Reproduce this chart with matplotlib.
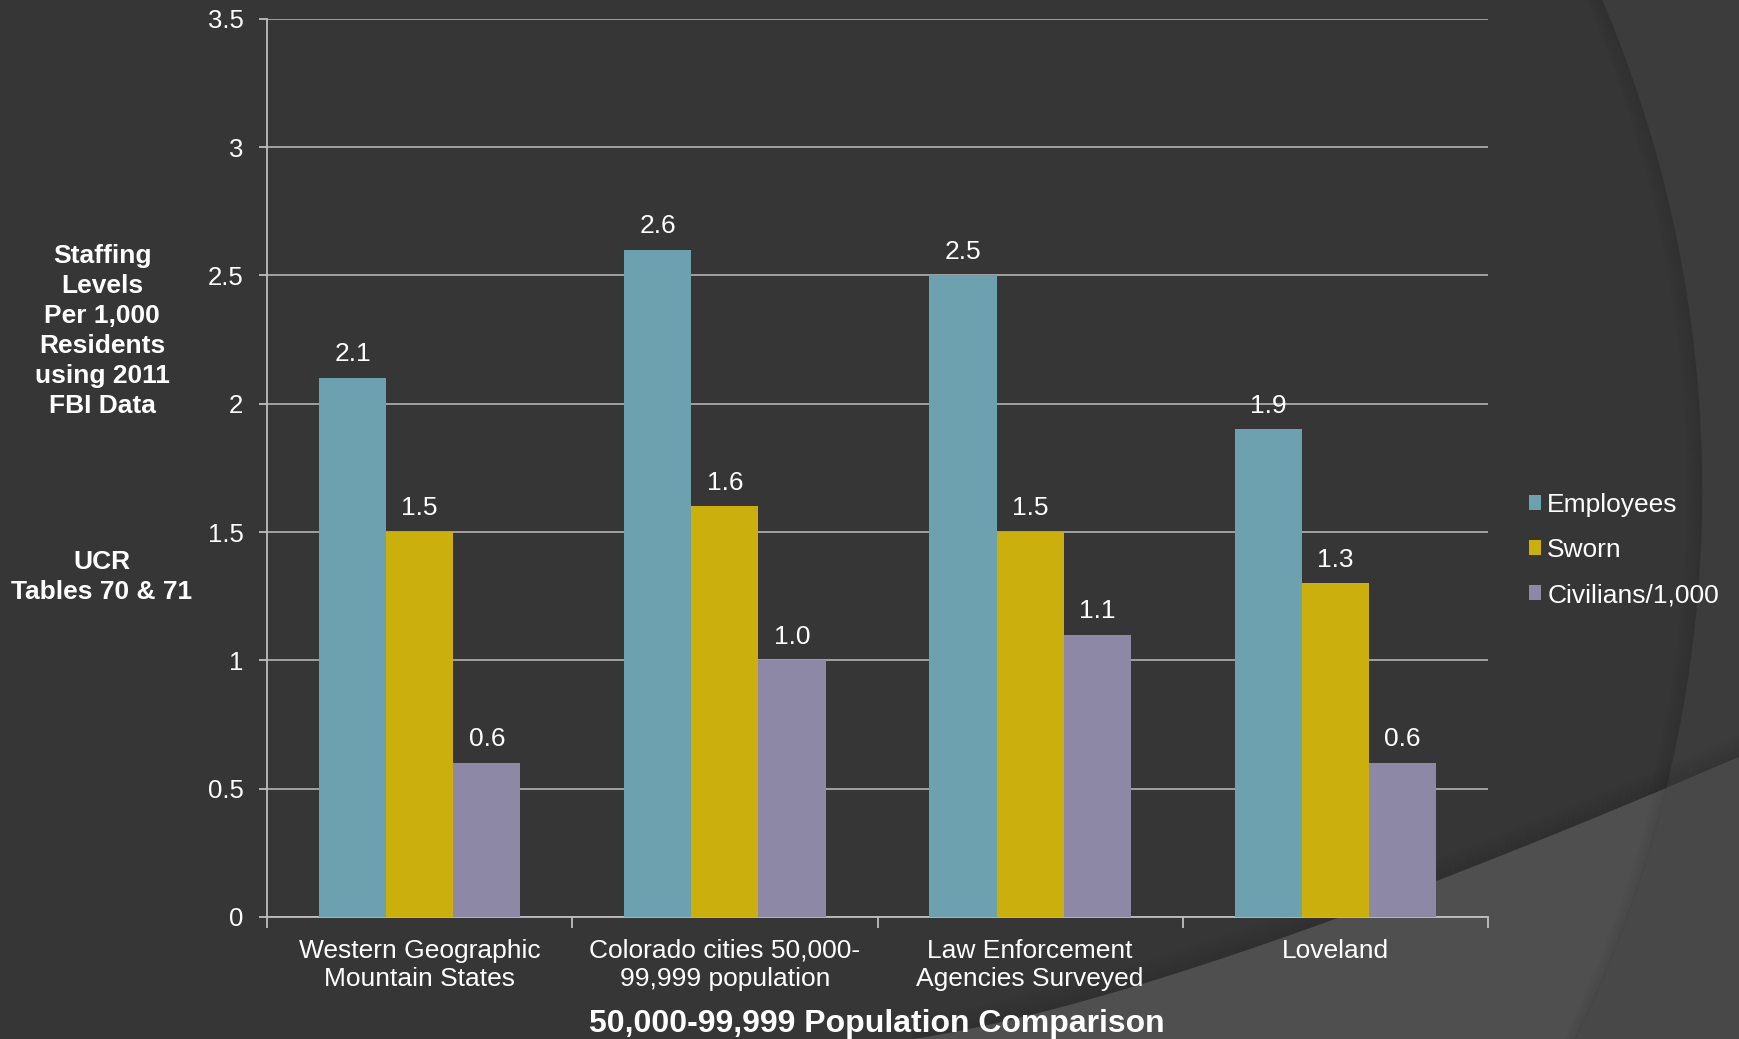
import numpy as np
import matplotlib
matplotlib.use("Agg")
import matplotlib.pyplot as plt
from matplotlib.patches import Polygon
from matplotlib.transforms import Affine2D

plt.rcParams['font.family'] = ['Liberation Sans', 'DejaVu Sans']

# ---- data ----
categories = ["Western Geographic\nMountain States",
              "Colorado cities 50,000-\n99,999 population",
              "Law Enforcement\nAgencies Surveyed",
              "Loveland"]
series_names = ["Employees", "Sworn", "Civilians/1,000"]
employees = [2.1, 2.6, 2.5, 1.9]
sworn = [1.5, 1.6, 1.5, 1.3]
civilians = [0.6, 1.0, 1.1, 0.6]
y_ticks = [0, 0.5, 1, 1.5, 2, 2.5, 3, 3.5]
y_tick_labels = ["0", "0.5", "1", "1.5", "2", "2.5", "3", "3.5"]
x_title = "50,000-99,999 Population Comparison"
left_note1 = "Staffing\nLevels\nPer 1,000\nResidents\nusing 2011\nFBI Data"
left_note2 = "UCR\nTables 70 & 71"

colors = ["#6ea1b0", "#cbaf0c", "#8d88a6"]
W, H = 1739, 1039
BG = "#363636"

fig = plt.figure(figsize=(W / 100, H / 100), dpi=100, facecolor=BG)

# pixel (top-left origin) -> figure transform for background decoration
pix = Affine2D().scale(1 / W, -1 / H).translate(0, 1) + fig.transFigure

# decorative arc region (right side)
cx, cy, R = 452.0, 490.0, 1250.0
ys = np.linspace(-5, H + 5, 300)
xs = cx + np.sqrt(np.maximum(R ** 2 - (ys - cy) ** 2, 0))
arc_pts = np.column_stack([xs, ys])
arc_poly_pts = np.vstack([arc_pts, [[W + 5, H + 5], [W + 5, -5]]])
arc_poly = Polygon(arc_poly_pts, closed=True, transform=pix, facecolor="#3c3c3c",
                   edgecolor="none", zorder=0)
fig.patches.append(arc_poly)
# soft arc shadow
for k in range(0, 16):
    fig.lines.append(plt.Line2D(xs - k, ys, transform=pix, color="black",
                                alpha=0.09 * (1 - k / 16), lw=0.72, zorder=0.5))

# lower-right wedge (quadratic bezier boundary)
t = np.linspace(0, 1, 300)
p0, p1, p2 = np.array([913, 1039]), np.array([1174, 1000]), np.array([1739, 757])
curve = ((1 - t) ** 2)[:, None] * p0 + (2 * (1 - t) * t)[:, None] * p1 + (t ** 2)[:, None] * p2
# wedge shadow (above boundary)
for k in range(0, 22):
    fig.lines.append(plt.Line2D(curve[:, 0], curve[:, 1] - k, transform=pix,
                                color="black", alpha=0.10 * (1 - k / 22), lw=0.72, zorder=0.8))
wedge_pts = np.vstack([[[900, 1045]], curve, [[W + 5, 750], [W + 5, H + 5]]])
wedge = Polygon(wedge_pts, closed=True, transform=pix, facecolor="#4f4f4f",
                edgecolor="none", zorder=1)
fig.patches.append(wedge)
wedge_right = Polygon(arc_poly_pts, closed=True, transform=pix, facecolor="#484848",
                      edgecolor="none", zorder=1.2)
wedge_right.set_clip_path(wedge)
fig.patches.append(wedge_right)
for k in range(0, 12):
    ln = plt.Line2D(xs - k, ys, transform=pix, color="black",
                    alpha=0.07 * (1 - k / 12), lw=0.72, zorder=1.4)
    ln.set_clip_path(wedge)
    fig.lines.append(ln)

# ---- axes ----
ax = fig.add_axes([267 / W, 1 - 917 / H, (1488 - 267) / W, (917 - 18.7) / H])
ax.set_facecolor("none")
ax.set_zorder(5)

x = np.arange(len(categories))
bw = 0.22
series = [employees, sworn, civilians]
for i, (vals, name, col) in enumerate(zip(series, series_names, colors)):
    pos = x + (i - 1) * bw
    ax.bar(pos, vals, width=bw, color=col, label=name, zorder=3, linewidth=0)
    for px_, v in zip(pos, vals):
        ax.annotate(f"{v:.1f}", xy=(px_, v), xytext=(0, 12), textcoords="offset points",
                    ha="center", va="baseline", color="white", fontsize=19, zorder=4)

ax.set_xlim(-0.5, len(categories) - 0.5)
ax.set_ylim(0, 3.5)
ax.set_yticks(y_ticks)
ax.set_yticklabels(y_tick_labels)
ax.yaxis.grid(True, color="#bfbfbf", linewidth=1.1, zorder=1)
ax.set_axisbelow(True)

ax.set_xticks(np.arange(-0.5, len(categories), 1.0))
ax.set_xticklabels([])
ax.set_xticks(x, minor=True)
ax.set_xticklabels(categories, minor=True, fontsize=19, color="white", linespacing=1.25)
ax.tick_params(axis="x", which="major", length=8, width=1.3, color="#bfbfbf", direction="out")
ax.tick_params(axis="x", which="minor", length=0, pad=15.5)
ax.tick_params(axis="y", length=6, width=1.3, color="#bfbfbf", labelsize=18.5,
               labelcolor="white", pad=11)

for s in ["top", "right"]:
    ax.spines[s].set_visible(False)
for s in ["left", "bottom"]:
    ax.spines[s].set_color("#bfbfbf")
    ax.spines[s].set_linewidth(1.3)

fig.text(877 / W, 1 - 1032 / H, x_title, ha="center", va="baseline", fontsize=23,
         fontweight="bold", color="white")

fig.text(102 / W, 1 - 331 / H, left_note1, ha="center", va="center", fontsize=19,
         fontweight="bold", color="white", linespacing=1.32, multialignment="center")
fig.text(102 / W, 1 - 577 / H, left_note2, ha="center", va="center", fontsize=19,
         fontweight="bold", color="white", linespacing=1.27, multialignment="center")

leg = fig.legend(loc="center left", bbox_to_anchor=(1529 / W, 1 - 550 / H), frameon=False,
                 fontsize=19, handlelength=0.47, handleheight=0.47, handletextpad=0.22,
                 labelspacing=0.8, borderaxespad=0, borderpad=0)
for txt in leg.get_texts():
    txt.set_color("white")

fig.savefig("out.png", dpi=100, facecolor=BG)
